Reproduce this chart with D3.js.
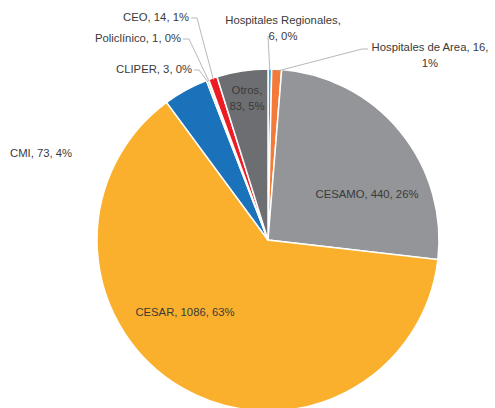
<!DOCTYPE html>
<html>
<head>
<meta charset="utf-8">
<script src="https://cdn.jsdelivr.net/npm/d3@7"></script>
<style>
  body { margin: 0; background: #fff; }
  text { font-family: "Liberation Sans", sans-serif; font-size: 11.3px; fill: #3a3a3a; }
</style>
</head>
<body>
<script>
const categories = ['Hospitales Regionales', 'Hospitales de Area', 'CESAMO', 'CESAR', 'CMI', 'CLIPER', 'Policlínico', 'CEO', 'Otros'];
const values = [6, 16, 440, 1086, 73, 3, 1, 14, 83];
const colors = ['#29abe2', '#f47a3a', '#939598', '#fbb02d', '#1a72bb', '#39b54a', '#8dc63f', '#ed1c24', '#6d6e71'];

const width = 495, height = 408;
const cx = 268, cy = 240, radius = 171;

// label placement (text lines, anchor point, leader start)
const labelLayout = {
  'Hospitales Regionales': { lines: ['Hospitales Regionales,', '6, 0%'], x: 283, y: 24, anchor: 'middle', lead: [[268, 36]] },
  'Hospitales de Area': { lines: ['Hospitales de Area, 16,', '1%'], x: 430, y: 51, anchor: 'middle', lead: [[368, 49], [362, 49]] },
  'CESAMO': { lines: ['CESAMO, 440, 26%'], x: 367, y: 198, anchor: 'middle' },
  'CESAR': { lines: ['CESAR, 1086, 63%'], x: 185, y: 316, anchor: 'middle' },
  'CMI': { lines: ['CMI, 73, 4%'], x: 10, y: 157, anchor: 'start' },
  'CLIPER': { lines: ['CLIPER, 3, 0%'], x: 192, y: 73, anchor: 'end', lead: [[194, 70], [199, 70]] },
  'Policlínico': { lines: ['Policlínico, 1, 0%'], x: 181, y: 42, anchor: 'end', lead: [[183, 39], [189, 39]] },
  'CEO': { lines: ['CEO, 14, 1%'], x: 189, y: 21, anchor: 'end', lead: [[191, 18], [197, 18]] },
  'Otros': { lines: ['Otros,', '83, 5%'], x: 247, y: 94, anchor: 'middle' }
};

const data = categories.map((c, i) => ({ name: c, value: values[i], color: colors[i] }));

const svg = d3.select('body')
  .append('svg')
  .attr('width', width)
  .attr('height', height);

const g = svg.append('g')
  .attr('transform', 'translate(' + cx + ',' + cy + ')');

const pie = d3.pie()
  .sort(null)
  .value(d => d.value);

const arc = d3.arc()
  .innerRadius(0)
  .outerRadius(radius);

const arcs = pie(data);

g.selectAll('path.slice')
  .data(arcs)
  .enter()
  .append('path')
  .attr('class', 'slice')
  .attr('d', arc)
  .attr('fill', d => d.data.color)
  .attr('stroke', '#fff')
  .attr('stroke-width', 1.5);

// leader lines
arcs.forEach(a => {
  const lay = labelLayout[a.data.name];
  if (!lay.lead) return;
  const mid = (a.startAngle + a.endAngle) / 2;
  const px = cx + Math.sin(mid) * (radius - 2);
  const py = cy - Math.cos(mid) * (radius - 2);
  const pts = lay.lead.concat([[px, py]]);
  svg.append('path')
    .attr('d', d3.line()(pts))
    .attr('fill', 'none')
    .attr('stroke', '#a6a6a6')
    .attr('stroke-width', 0.8);
});

// labels
arcs.forEach(a => {
  const lay = labelLayout[a.data.name];
  const t = svg.append('text')
    .attr('text-anchor', lay.anchor);
  lay.lines.forEach((line, i) => {
    t.append('tspan')
      .attr('x', lay.x)
      .attr('y', lay.y + i * 16)
      .text(line);
  });
});
</script>
</body>
</html>
